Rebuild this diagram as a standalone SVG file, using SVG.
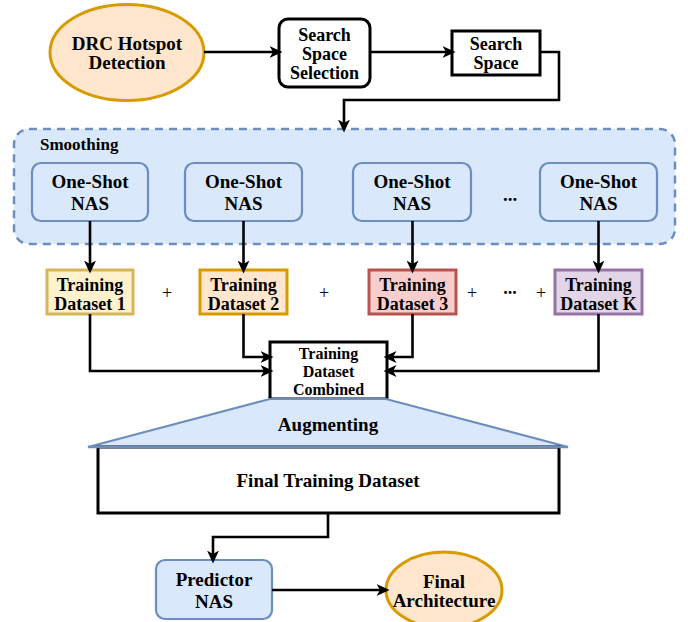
<svg xmlns="http://www.w3.org/2000/svg" width="688" height="622" viewBox="0 0 688 622">
<style>
text{font-weight:bold;font-size:19px;fill:#000;text-anchor:middle}
.plain{font-weight:normal;font-size:18px}
.td{font-size:18px}
.cb{font-size:16px}
.blue{fill:#dae8fc;stroke:#6c8ebf;stroke-width:2.2}
.blk{fill:#fff;stroke:#000;stroke-width:3}
.edge{fill:none;stroke:#000;stroke-width:2.6;marker-end:url(#arr)}
</style>
<defs>
<marker id="arr" markerUnits="userSpaceOnUse" viewBox="0 0 13 12" markerWidth="13" markerHeight="12" refX="9.5" refY="6" orient="auto">
<path d="M0,0 L13,6 L0,12 L3.5,6 Z" fill="#000"/>
</marker>
</defs>
<g font-family="Liberation Serif, Times New Roman, serif">
<g id="smoothing">
<rect x="14" y="129" width="661" height="115" rx="15" fill="#dae8fc" stroke="#6c8ebf" stroke-width="2.5" stroke-dasharray="8,6"/>
<text x="40" y="150" style="text-anchor:start;font-size:17px">Smoothing</text>
</g>
<g id="drc">
<ellipse cx="127" cy="52.5" rx="77" ry="48" fill="#ffe6cc" stroke="#d79b00" stroke-width="3"/>
<text x="127" y="50">DRC Hotspot</text><text x="127" y="69">Detection</text>
</g>
<g id="sss">
<rect x="279" y="19" width="91" height="68" rx="9" class="blk"/>
<text class="td" x="324.5" y="41">Search</text><text class="td" x="324.5" y="60">Space</text><text class="td" x="324.5" y="79">Selection</text>
</g>
<g id="ss">
<rect x="452" y="31" width="88" height="44" class="blk"/>
<text class="td" x="496" y="50">Search</text><text class="td" x="496" y="69">Space</text>
</g>
<g id="os1"><rect x="32" y="163" width="116" height="58" rx="9" class="blue"/><text x="90" y="188">One-Shot</text><text x="90" y="210">NAS</text></g>
<g id="os2"><rect x="185" y="163" width="117" height="58" rx="9" class="blue"/><text x="243.5" y="188">One-Shot</text><text x="243.5" y="210">NAS</text></g>
<g id="os3"><rect x="353" y="163" width="118" height="58" rx="9" class="blue"/><text x="412" y="188">One-Shot</text><text x="412" y="210">NAS</text></g>
<g id="os4"><rect x="540" y="163" width="117" height="58" rx="9" class="blue"/><text x="598.5" y="188">One-Shot</text><text x="598.5" y="210">NAS</text></g>
<text x="510" y="201">...</text>
<g id="td1"><rect x="47" y="270" width="86" height="44" fill="#fff2cc" stroke="#d6b656" stroke-width="3"/><text class="td" x="90" y="291">Training</text><text class="td" x="90" y="310">Dataset 1</text></g>
<g id="td2"><rect x="200" y="270" width="87" height="44" fill="#ffe6cc" stroke="#d79b00" stroke-width="3"/><text class="td" x="243.5" y="291">Training</text><text class="td" x="243.5" y="310">Dataset 2</text></g>
<g id="td3"><rect x="369" y="270" width="87" height="44" fill="#f8cecc" stroke="#b85450" stroke-width="3"/><text class="td" x="412.5" y="291">Training</text><text class="td" x="412.5" y="310">Dataset 3</text></g>
<g id="tdk"><rect x="555" y="270" width="87" height="44" fill="#e1d5e7" stroke="#9673a6" stroke-width="3"/><text class="td" x="598.5" y="291">Training</text><text class="td" x="598.5" y="310">Dataset K</text></g>
<text class="plain" x="167" y="299">+</text>
<text class="plain" x="324" y="299">+</text>
<text class="plain" x="472" y="299">+</text>
<text class="td" x="510" y="294">...</text>
<text class="plain" x="541" y="299">+</text>
<g id="combined">
<rect x="270" y="342" width="117" height="57" class="blk"/>
<text class="cb" x="328.5" y="359">Training</text><text class="cb" x="328.5" y="377">Dataset</text><text class="cb" x="328.5" y="395">Combined</text>
</g>
<g id="augmenting">
<polygon points="270,399 386,399 568,447 88,447" class="blue" stroke-width="2.5"/>
<text x="328" y="431">Augmenting</text>
</g>
<g id="final-dataset">
<rect x="98" y="447" width="461" height="66" fill="#fff" stroke="#000" stroke-width="3"/>
<line x1="88" y1="447" x2="568" y2="447" stroke="#6c8ebf" stroke-width="2.5"/>
<text x="328" y="487">Final Training Dataset</text>
</g>
<g id="predictor"><rect x="156" y="560" width="116" height="59" rx="9" class="blue" stroke-width="2.5"/><text x="214" y="586">Predictor</text><text x="214" y="608">NAS</text></g>
<g id="final-arch"><ellipse cx="444" cy="590" rx="58" ry="38" fill="#ffe6cc" stroke="#d79b00" stroke-width="3"/><text x="444" y="588">Final</text><text x="444" y="607">Architecture</text></g>
</g>
<g id="connectors">
<path class="edge" d="M204,52 H279"/>
<path class="edge" d="M370,52 H452"/>
<path class="edge" d="M540,52 H559 V100 H344 V129"/>
<path class="edge" d="M90,221 V270"/>
<path class="edge" d="M243.5,221 V270"/>
<path class="edge" d="M412.5,221 V270"/>
<path class="edge" d="M598.5,221 V270"/>
<path class="edge" d="M90,314 V371 H270"/>
<path class="edge" d="M243.5,314 V357 H270"/>
<path class="edge" d="M412.5,314 V357 H387"/>
<path class="edge" d="M598.5,314 V371 H387"/>
<path class="edge" d="M328,513 V537 H213 V560"/>
<path class="edge" d="M272,590 H386"/>
</g>
</svg>
